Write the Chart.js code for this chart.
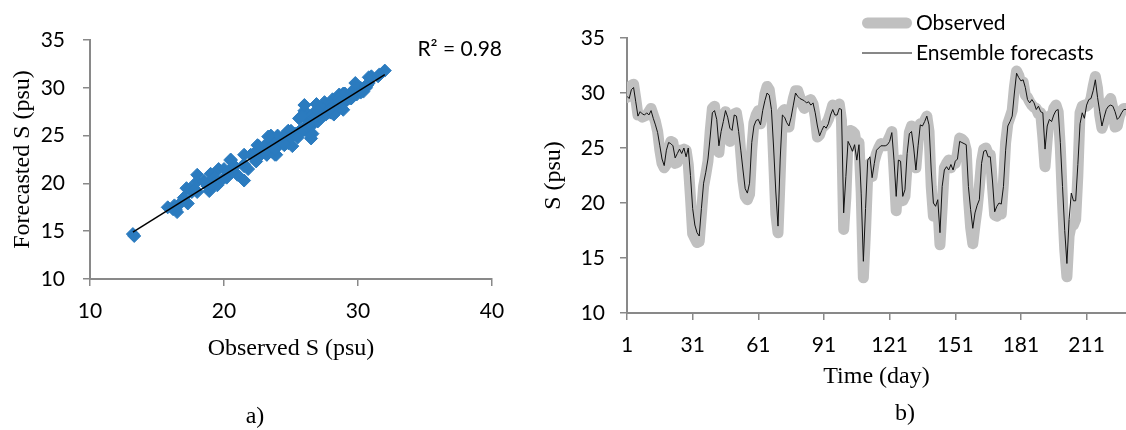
<!DOCTYPE html>
<html>
<head>
<meta charset="utf-8">
<script src="https://cdn.jsdelivr.net/npm/chart.js@4/dist/chart.umd.min.js"></script>
<style>
    html, body { margin: 0; padding: 0; background: #fff; }
    body { width: 1126px; height: 430px; position: relative; overflow: hidden; }
    .panel { position: absolute; top: 0; }
    #scatterWrap { left: 0; }
    #seriesWrap { left: 530px; }
    .caption {
        position: absolute;
        font-family: "Liberation Serif", "Times New Roman", serif;
        font-size: 24px;
        color: #000;
        transform: translate(-50%, -50%);
    }
</style>
</head>
<body>
<div class="panel" id="scatterWrap"><canvas id="scatter" width="530" height="430"></canvas></div>
<div class="panel" id="seriesWrap"><canvas id="series" width="596" height="430"></canvas></div>
<div class="caption" style="left:255px; top:415px">a)</div>
<div class="caption" style="left:905px; top:412px">b)</div>
<script>
// daily salinity, day 1 .. 229
const observed = [
    29.6, 30.2, 30.7, 30.8, 29.5, 28.0, 28.0, 27.8, 27.9, 28.0,
    28.3, 28.6, 28.0, 27.4, 26.5, 24.8, 23.6, 23.2, 23.5, 24.8,
    25.6, 25.5, 23.6, 23.7, 24.8, 24.5, 24.9, 24.8, 23.5, 20.5,
    17.2, 16.8, 16.4, 16.5, 19.0, 21.5, 22.6, 23.8, 26.5, 28.6,
    28.8, 26.0, 24.6, 26.8, 28.0, 28.3, 27.0, 25.6, 26.3, 28.1,
    28.2, 27.0, 24.5, 22.0, 20.6, 20.3, 20.8, 24.8, 27.3, 28.0,
    28.4, 27.2, 28.3, 29.9, 30.6, 30.3, 28.8, 24.0, 19.0, 17.3,
    22.5, 28.3, 28.5, 27.0, 26.9, 28.5, 29.5, 30.2, 30.2, 29.6,
    29.0, 28.6, 28.9, 29.3, 29.4, 29.0, 27.8, 26.0, 26.2, 26.8,
    27.0, 27.2, 27.6, 28.2, 28.9, 28.5, 28.3, 29.0, 27.5, 17.6,
    20.5, 25.8, 26.6, 26.5, 26.3, 25.1, 25.5, 21.0, 13.2, 17.5,
    22.6, 23.6, 22.4, 23.8, 24.5, 25.0, 25.4, 25.3, 25.2, 25.6,
    26.0, 26.5, 23.0, 19.3, 23.5, 23.9, 20.2, 20.6, 23.5, 26.4,
    27.0, 24.8, 23.2, 25.6, 27.2, 27.1, 27.5, 27.9, 26.5, 21.5,
    18.8, 18.8, 19.8, 16.2, 19.6, 23.2, 23.6, 23.9, 23.2, 23.8,
    23.6, 24.5, 25.9, 25.8, 25.6, 24.8, 20.5, 17.8, 16.3, 18.0,
    19.5, 21.5, 23.8, 24.9, 25.0, 24.5, 24.4, 21.5, 18.9, 18.8,
    19.2, 19.0, 21.8, 25.5, 27.2, 27.8, 28.4, 30.5, 32.0, 31.6,
    30.8, 31.0, 29.8, 29.6, 29.2, 28.9, 28.7, 28.6, 28.1, 28.2,
    26.0, 23.3, 25.8, 27.9, 27.6, 28.6, 28.9, 28.3, 25.0, 20.0,
    15.8, 13.3, 17.0, 18.0, 18.0, 18.5, 22.5, 28.2, 28.8, 28.9,
    28.8, 29.0, 29.5, 30.6, 31.5, 30.4, 28.0, 26.8, 27.4, 28.6,
    29.2, 29.5, 28.6, 26.9, 27.0, 27.9, 28.4, 28.6, 28.6
];

const forecast = [
    29.7, 29.5, 30.3, 30.5, 29.2, 27.9, 28.3, 28.1, 28.0, 28.2,
    28.0, 28.4, 27.7, 27.1, 26.4, 25.2, 24.0, 23.4, 24.8, 25.5,
    25.4, 25.2, 24.1, 24.5, 24.9, 24.5, 25.0, 24.2, 25.0, 22.5,
    19.5, 18.0, 17.3, 17.0, 19.5, 21.8, 22.8, 24.0, 26.0, 28.2,
    28.4, 27.6, 25.2, 26.5, 27.4, 28.4, 27.8, 26.8, 26.6, 28.0,
    27.9, 26.5, 24.8, 23.0, 21.3, 20.9, 21.8, 25.5, 27.0, 27.5,
    27.6, 27.1, 28.4, 29.3, 30.0, 29.8, 28.5, 25.0, 21.0, 17.9,
    24.0, 28.0, 27.8, 27.3, 27.0, 27.8, 28.9, 30.0, 29.7, 29.5,
    29.4, 29.3, 29.1, 29.2, 28.9, 29.1, 28.2, 27.0, 26.1, 26.6,
    27.0, 26.8, 27.2, 28.0, 28.5, 28.0, 28.0, 28.6, 28.5, 19.1,
    22.4, 25.6, 25.2, 24.7, 25.3, 23.9, 25.3, 20.9, 14.7, 19.5,
    23.9, 24.2, 22.3, 23.6, 24.8, 25.0, 25.2, 25.2, 25.2, 25.3,
    25.6, 26.4, 23.9, 20.6, 23.9, 23.8, 20.6, 21.2, 24.5, 26.3,
    26.5, 25.0, 23.0, 25.2, 27.1, 27.0, 27.4, 27.9, 27.1, 23.0,
    20.0, 19.7, 20.3, 17.3, 21.5, 23.0, 23.3, 23.0, 23.5, 23.0,
    23.8, 24.0, 25.6, 25.5, 25.4, 25.3, 21.5, 19.4, 17.7, 19.1,
    19.8, 20.3, 23.6, 24.7, 24.8, 24.2, 24.2, 22.0, 19.2, 19.7,
    20.0, 19.9, 21.5, 24.8, 27.0, 27.4, 27.9, 30.0, 31.8, 31.4,
    31.1, 31.2, 30.5, 29.4, 29.1, 29.4, 29.1, 28.5, 28.8, 28.3,
    28.2, 24.9, 27.0, 27.6, 27.4, 28.0, 28.4, 28.5, 25.5, 21.5,
    17.5, 14.5, 18.5, 20.9, 20.2, 20.2, 23.5, 27.2, 28.2, 27.7,
    28.9, 29.4, 29.5, 30.2, 31.2, 29.6, 28.3, 27.0, 27.8, 28.5,
    28.8, 28.9, 28.8, 28.3, 27.6, 27.8, 28.2, 28.5, 28.5
];

const dayTicks = [1, 31, 61, 91, 121, 151, 181, 211];
const salinityTicks = [10, 15, 20, 25, 30, 35];
const scatterXTicks = [10, 20, 30, 40];
const r2Text = "R\u00B2 = 0.98";

const tickFont = { family: "Lato", size: 21 };
const titleFont = { family: "Liberation Serif", size: 24 };
const axisGray = "#898989";

function fixedTicks(values) {
    return function (scale) {
        scale.ticks = values.map(v => ({ value: v }));
    };
}

function baseAxis(min, max, ticks, title, titlePad, labelPad) {
    return {
        type: "linear",
        min: min,
        max: max,
        afterBuildTicks: fixedTicks(ticks),
        grid: {
            display: true,
            drawOnChartArea: false,
            drawTicks: true,
            tickLength: 7,
            color: axisGray,
            lineWidth: 1.5
        },
        border: { display: true, color: axisGray, width: 2 },
        ticks: { font: tickFont, color: "#000", padding: labelPad, maxRotation: 0, autoSkip: false },
        title: { display: true, text: title, font: titleFont, color: "#000", padding: titlePad }
    };
}

// least squares line through the scatter
const n = observed.length;
const mx = observed.reduce((a, b) => a + b, 0) / n;
const my = forecast.reduce((a, b) => a + b, 0) / n;
let sxy = 0, sxx = 0;
for (let i = 0; i < n; i++) {
    sxy += (observed[i] - mx) * (forecast[i] - my);
    sxx += (observed[i] - mx) * (observed[i] - mx);
}
const slope = sxy / sxx;
const intercept = my - slope * mx;
const xLo = Math.min(...observed);
const xHi = Math.max(...observed);

const r2Label = {
    id: "r2Label",
    afterDraw(chart) {
        const ctx = chart.ctx;
        ctx.save();
        ctx.font = "21px Lato";
        ctx.fillStyle = "#000";
        ctx.textAlign = "right";
        ctx.textBaseline = "middle";
        ctx.fillText(r2Text, 502, 49);
        ctx.restore();
    }
};

new Chart(document.getElementById("scatter"), {
    type: "scatter",
    data: {
        datasets: [
            {
                label: "Forecast vs observed",
                data: observed.map((v, i) => ({ x: v, y: forecast[i] })),
                pointStyle: "rectRot",
                pointRadius: 6.5,
                pointBackgroundColor: "#2b7bbf",
                pointBorderColor: "#2b7bbf",
                pointBorderWidth: 1,
                order: 2
            },
            {
                type: "line",
                label: "Linear fit",
                data: [
                    { x: xLo, y: slope * xLo + intercept },
                    { x: xHi, y: slope * xHi + intercept }
                ],
                borderColor: "#000",
                borderWidth: 1.5,
                pointRadius: 0,
                order: 1
            }
        ]
    },
    options: {
        responsive: false,
        animation: false,
        events: [],
        layout: { padding: { left: 0, top: 40, right: 38, bottom: 0 } },
        plugins: { legend: { display: false }, tooltip: { enabled: false } },
        scales: {
            x: Object.assign(baseAxis(10, 40, scatterXTicks, "Observed S (psu)", { top: 0, bottom: 67 }, 13), {
                afterFit(scale) { scale.height = 151; }
            }),
            y: Object.assign(baseAxis(10, 35, salinityTicks, "Forecasted S (psu)", { top: 8, bottom: 0 }, 18), {
                afterFit(scale) { scale.width = 90; }
            })
        }
    },
    plugins: [r2Label]
});

const seriesLegend = {
    id: "seriesLegend",
    afterDraw(chart) {
        const ctx = chart.ctx;
        ctx.save();
        ctx.font = "21px Lato";
        ctx.fillStyle = "#000";
        ctx.textAlign = "left";
        ctx.textBaseline = "middle";
        chart.data.datasets.forEach((ds, i) => {
            const y = 23 + i * 30;
            const inset = ds.borderWidth > 2 ? ds.borderWidth / 2 : 0;
            ctx.strokeStyle = ds.borderColor;
            ctx.lineWidth = ds.borderWidth;
            ctx.lineCap = ds.borderWidth > 2 ? "round" : "butt";
            ctx.beginPath();
            ctx.moveTo(332 + inset, y);
            ctx.lineTo(382 - inset, y);
            ctx.stroke();
            ctx.fillText(ds.label, 386, y);
        });
        ctx.restore();
    }
};

new Chart(document.getElementById("series"), {
    type: "line",
    data: {
        datasets: [
            {
                label: "Observed",
                data: observed.map((v, i) => ({ x: i + 1, y: v })),
                borderColor: "#c0c0c0",
                borderWidth: 11,
                borderJoinStyle: "round",
                borderCapStyle: "round",
                pointRadius: 0,
                tension: 0,
                order: 2
            },
            {
                label: "Ensemble forecasts",
                data: forecast.map((v, i) => ({ x: i + 1, y: v })),
                borderColor: "#111",
                borderWidth: 1,
                pointRadius: 0,
                tension: 0,
                order: 1
            }
        ]
    },
    options: {
        responsive: false,
        animation: false,
        events: [],
        layout: { padding: { left: 0, top: 38, right: 0, bottom: 0 } },
        plugins: { legend: { display: false }, tooltip: { enabled: false } },
        scales: {
            x: Object.assign(baseAxis(1, forecast.length, dayTicks, "Time (day)", { top: 0, bottom: 39 }, 13), {
                afterFit(scale) { scale.height = 117; }
            }),
            y: Object.assign(baseAxis(10, 35, salinityTicks, "S (psu)", { top: 9, bottom: 0 }, 15), {
                afterFit(scale) { scale.width = 97; }
            })
        }
    },
    plugins: [seriesLegend]
});
</script>
</body>
</html>
